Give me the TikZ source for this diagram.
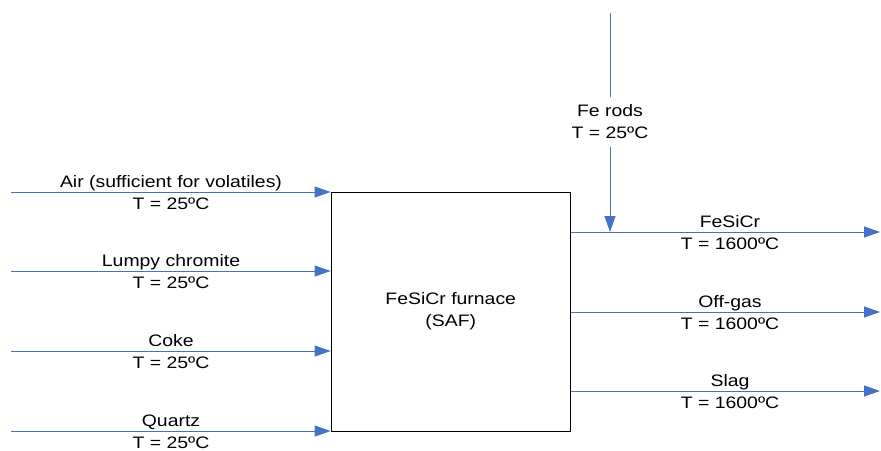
\documentclass[tikz,border=0pt]{standalone}
\usepackage{fontspec}
\setmainfont{Liberation Sans}[FakeStretch=1.17]
\usetikzlibrary{arrows.meta,positioning}
\definecolor{flowblue}{RGB}{68,114,196}
\tikzset{
  stream/.style={draw=flowblue, line width=1pt, -{Triangle[length=16pt,width=11pt]}},
  lbl/.style={font=\fontsize{16.6}{22}\selectfont, inner sep=0pt, anchor=base},
}

\begin{document}
\begin{tikzpicture}[x=1pt,y=-1pt]
\useasboundingbox (0,0) rectangle (881,450);
% Furnace
\node[draw, line width=0.8pt, minimum width=239.5pt, minimum height=239pt,
      font=\fontsize{16.6}{22}\selectfont, align=center, inner sep=0pt]
  (furnace) at (450.75,311.5) {FeSiCr furnace\\(SAF)};
% Feed streams
\coordinate (air) at (11,192);
\coordinate (chromite) at (11,271);
\coordinate (coke) at (11,351);
\coordinate (quartz) at (11,431);
\draw[stream] (air) -- (air -| furnace.west);
\draw[stream] (chromite) -- (chromite -| furnace.west);
\draw[stream] (coke) -- (coke -| furnace.west);
\draw[stream] (quartz) -- (quartz -| furnace.west);
\node[lbl] (airname) at (171,187) {Air (sufficient for volatiles)};
\node[lbl] (airT) at (171,209) {T = 25ºC};
\node[lbl] (chromitename) at (171,266) {Lumpy chromite};
\node[lbl] (chromiteT) at (171,288) {T = 25ºC};
\node[lbl] (cokename) at (171,346) {Coke};
\node[lbl] (cokeT) at (171,368) {T = 25ºC};
\node[lbl] (quartzname) at (171,426) {Quartz};
\node[lbl] (quartzT) at (171,448) {T = 25ºC};
% Product streams
\coordinate (fesicr) at (880,232);
\coordinate (offgas) at (880,312);
\coordinate (slag) at (880,391);
\draw[stream] (fesicr -| furnace.east) -- (fesicr);
\draw[stream] (offgas -| furnace.east) -- (offgas);
\draw[stream] (slag -| furnace.east) -- (slag);
\node[lbl] (fesicrname) at (730,227) {FeSiCr};
\node[lbl] (fesicrT) at (730,249) {T = 1600ºC};
\node[lbl] (offgasname) at (730,307) {Off-gas};
\node[lbl] (offgasT) at (730,329) {T = 1600ºC};
\node[lbl] (slagname) at (730,386) {Slag};
\node[lbl] (slagT) at (730,408) {T = 1600ºC};
% Fe rods addition
\coordinate (fetop) at (610,13);
\coordinate (fejoin) at (610,232);
\node[font=\fontsize{16.6}{22}\selectfont, align=center, inner sep=0pt,
      minimum height=50pt] (ferods) at (610,122) {Fe rods\\T = 25ºC};
\draw[draw=flowblue, line width=1pt] (fetop) -- (ferods.north);
\draw[stream] (ferods.south) -- (fejoin);
\end{tikzpicture}
\end{document}
